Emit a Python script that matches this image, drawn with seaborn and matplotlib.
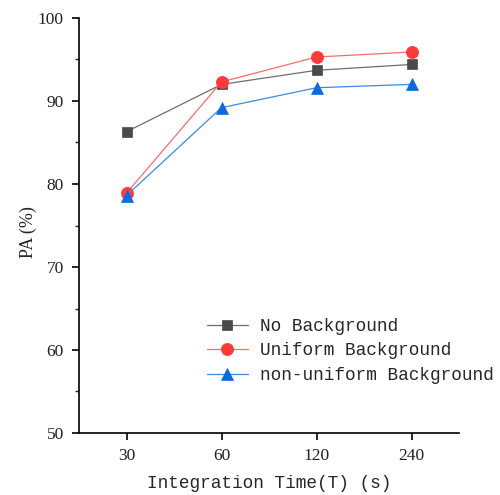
import pandas as pd
import matplotlib
matplotlib.use('Agg')
import matplotlib.pyplot as plt
import seaborn as sns
from matplotlib.ticker import MultipleLocator

# ---- data ----
times = ['30', '60', '120', '240']
no_bg = [86.3, 92.0, 93.7, 94.4]
uniform_bg = [78.9, 92.3, 95.3, 95.9]
nonuniform_bg = [78.6, 89.2, 91.6, 92.0]

series_names = ['No Background', 'Uniform Background', 'non-uniform Background']

df = pd.concat([
    pd.DataFrame({'time': times, 'PA': no_bg, 'case': series_names[0]}),
    pd.DataFrame({'time': times, 'PA': uniform_bg, 'case': series_names[1]}),
    pd.DataFrame({'time': times, 'PA': nonuniform_bg, 'case': series_names[2]}),
])

sns.set_style('ticks')

line_colors = {'No Background': '#6e6e6e', 'Uniform Background': '#ff6b6b',
               'non-uniform Background': '#3a8ae6'}
marker_colors = {'No Background': '#4a4a4a', 'Uniform Background': '#ff3a3a',
                 'non-uniform Background': '#0a6ae0'}
markers = {'No Background': 's', 'Uniform Background': 'o',
           'non-uniform Background': '^'}
msize = {'No Background': 7.8, 'Uniform Background': 8.8,
         'non-uniform Background': 9.2}

fig = plt.figure(figsize=(5.0, 4.95), dpi=100)
ax = fig.add_axes([79 / 500, 1 - 433 / 495, 380 / 500, 415 / 495])

for name in series_names:
    sub = df[df['case'] == name]
    sns.lineplot(data=sub, x='time', y='PA', ax=ax, color=line_colors[name],
                 linewidth=0.9, marker=markers[name], markersize=msize[name],
                 markerfacecolor=marker_colors[name], markeredgecolor=marker_colors[name],
                 markeredgewidth=0.5, label=name, sort=False)

ax.set_xlim(-0.5, 3.5)
ax.set_ylim(50, 100)
ax.yaxis.set_major_locator(MultipleLocator(10))
ax.yaxis.set_minor_locator(MultipleLocator(5))

for side in ['top', 'right']:
    ax.spines[side].set_visible(False)
for side in ['left', 'bottom']:
    ax.spines[side].set_linewidth(1.2)
    ax.spines[side].set_color('black')

ax.tick_params(axis='both', which='major', direction='out', length=5, width=1.2,
               labelsize=12.5, colors='black', pad=6)
ax.tick_params(axis='y', which='minor', direction='out', length=3, width=1.0)
for lbl in ax.get_xticklabels() + ax.get_yticklabels():
    lbl.set_fontfamily('Liberation Serif')
    lbl.set_color('#222222')

ax.set_xlabel('Integration Time(T) (s)', fontfamily='Liberation Mono', fontsize=12.8,
              labelpad=8)
ax.set_ylabel('PA (%)', fontfamily='Liberation Serif', fontsize=13)
ax.yaxis.set_label_coords(-0.11, 0.484)

leg = ax.legend(loc='upper left', bbox_to_anchor=(207 / 500, 1 - 318 / 495),
                bbox_transform=fig.transFigure, frameon=False, borderpad=0,
                borderaxespad=0, handlelength=2.3, handletextpad=0.7,
                labelspacing=0.42, prop={'family': 'Liberation Mono', 'size': 12.8})

fig.savefig('out.png', dpi=100)
